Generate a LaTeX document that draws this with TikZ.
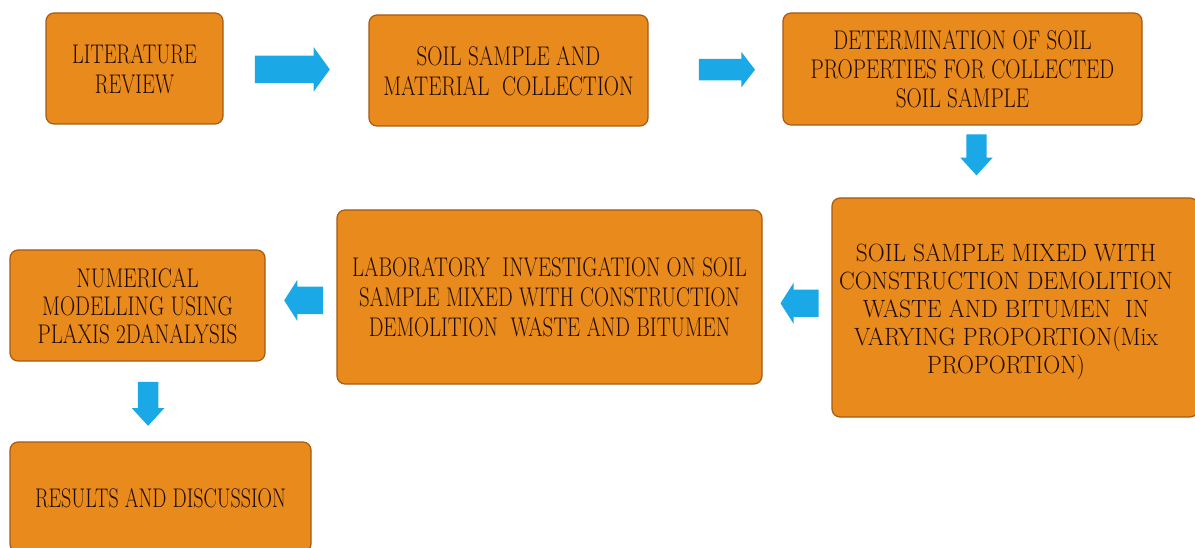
\documentclass[tikz,border=0pt]{standalone}
\usepackage{graphicx}
\usepackage{fontspec}
\usepackage{tikz}
\usetikzlibrary{shapes.arrows}
\definecolor{boxfill}{HTML}{E88A1C}
\definecolor{boxline}{HTML}{A65A14}
\definecolor{boxtext}{HTML}{220C00}
\definecolor{arrblue}{HTML}{1AA8E6}
% narrow caps, as in the drawing
\newcommand{\narrow}[2][0.77]{\raisebox{-4pt}[\height][\depth]{\scalebox{#1}[1]{\begin{tabular}{@{}c@{}}#2\end{tabular}}}}

\begin{document}
\begin{tikzpicture}[x=1pt,y=-1pt,
  box/.style={draw=boxline,line width=1.2pt,fill=boxfill,rounded corners=8pt,
    text=boxtext,font=\fontsize{27}{30}\selectfont,inner sep=0pt},
  blockarr/.style={single arrow,fill=arrblue,draw=none,inner xsep=0pt,
    single arrow head indent=0pt}]
\useasboundingbox (0,0) rectangle (1195,548);
\node[box,minimum width=177,minimum height=111] (lit) at (134.5,68.5) {\narrow[0.75]{LITERATURE\\REVIEW}};
\node[box,minimum width=279,minimum height=111] (coll) at (508.5,70.5) {\narrow[0.78]{SOIL SAMPLE AND\\MATERIAL\ \ COLLECTION}};
\node[box,minimum width=359,minimum height=112,font=\fontsize{27}{29}\selectfont] (prop) at (962.5,69) {\narrow[0.78]{DETERMINATION OF SOIL\\PROPERTIES FOR COLLECTED\\SOIL SAMPLE}};
\node[box,minimum width=366,minimum height=219,font=\fontsize{25}{28}\selectfont] (mix) at (1015,307.5) {\narrow[0.94]{SOIL SAMPLE MIXED WITH\\CONSTRUCTION DEMOLITION\\WASTE AND BITUMEN\ \ IN\\VARYING PROPORTION(Mix\\PROPORTION)}\hspace*{18pt}};
\node[box,minimum width=425,minimum height=174] (lab) at (549.5,297) {\narrow{LABORATORY\ \ INVESTIGATION ON SOIL\\SAMPLE MIXED WITH CONSTRUCTION\\DEMOLITION\ \ WASTE AND BITUMEN}};
\node[box,minimum width=255,minimum height=111,font=\fontsize{27}{28}\selectfont] (num) at (137.5,305.5) {\narrow[0.78]{NUMERICAL\\MODELLING USING\\PLAXIS 2DANALYSIS}};
\node[box,minimum width=301,minimum height=110] (res) at (160.5,497) {\narrow[0.74]{RESULTS AND DISCUSSION}};

\path (lit.east) -- node[pos=0.44,blockarr,minimum height=75,inner ysep=13.5pt,single arrow head extend=8.5pt,single arrow tip angle=108] {} (coll.west);
\path (coll.east) -- node[pos=0.555,blockarr,minimum height=56,inner ysep=10.5pt,single arrow head extend=7pt,single arrow tip angle=105] {} (prop.west);
\path (prop.south) -- node[pos=0.33,xshift=14,blockarr,rotate=270,minimum height=41,inner ysep=10pt,single arrow head extend=6pt,single arrow tip angle=85] {} (prop.south |- mix.north);
\path (mix.west) -- node[pos=0.4,blockarr,rotate=180,minimum height=38,inner ysep=13.5pt,single arrow head extend=7pt,single arrow tip angle=115] {} (lab.east);
\path (lab.west) -- node[pos=0.4,blockarr,rotate=180,minimum height=39,inner ysep=13.5pt,single arrow head extend=7pt,single arrow tip angle=115] {} (num.east);
\path (num.south) -- node[pos=0.46,blockarr,rotate=270,minimum height=44,inner ysep=10pt,single arrow head extend=6pt,single arrow tip angle=85] {} (res.north);
\end{tikzpicture}
\end{document}
